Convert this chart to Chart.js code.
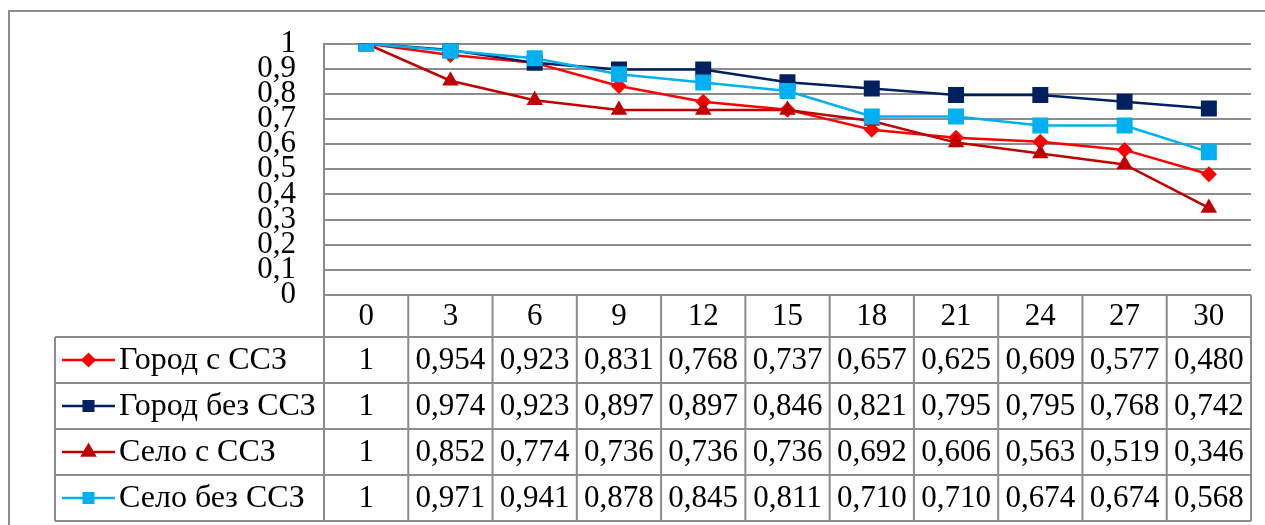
<!DOCTYPE html>
<html>
<head>
<meta charset="utf-8">
<script src="https://cdn.jsdelivr.net/npm/chart.js@4.4.1/dist/chart.umd.min.js"></script>
<style>
html, body { margin: 0; padding: 0; background: #fff; }
</style>
</head>
<body>
<canvas id="myChart" width="1265" height="525"></canvas>
<script>
// срок наблюдения (месяцы)
const meses = ['0', '3', '6', '9', '12', '15', '18', '21', '24', '27', '30'];

const gorodSSZ    = [1, 0.954, 0.923, 0.831, 0.768, 0.737, 0.657, 0.625, 0.609, 0.577, 0.480];
const gorodBezSSZ = [1, 0.974, 0.923, 0.897, 0.897, 0.846, 0.821, 0.795, 0.795, 0.768, 0.742];
const seloSSZ     = [1, 0.852, 0.774, 0.736, 0.736, 0.736, 0.692, 0.606, 0.563, 0.519, 0.346];
const seloBezSSZ  = [1, 0.971, 0.941, 0.878, 0.845, 0.811, 0.710, 0.710, 0.674, 0.674, 0.568];

const nombres = ['Город с ССЗ', 'Город без ССЗ', 'Село с ССЗ', 'Село без ССЗ'];
const yTicks = ['0', '0,1', '0,2', '0,3', '0,4', '0,5', '0,6', '0,7', '0,8', '0,9', '1'];

const FONT = "'Liberation Serif', 'Times New Roman', serif";
const GRIS = '#8c8c8c';

const series = [
    { label: nombres[0], data: gorodSSZ,    color: '#ff0000', style: 'rectRot',  radius: 8,    leg: 7.5, order: 4 },
    { label: nombres[1], data: gorodBezSSZ, color: '#002060', style: 'rect',     radius: 11.3, leg: 8.5, order: 3 },
    { label: nombres[2], data: seloSSZ,     color: '#c00000', style: 'triangle', radius: 9.5,  leg: 9.5, order: 2 },
    { label: nombres[3], data: seloBezSSZ,  color: '#00b0f0', style: 'rect',     radius: 11.3, leg: 8.5, order: 1 }
];

function formato(v) {
    return v === 1 ? '1' : v.toFixed(3).replace('.', ',');
}

const tabla = {
    id: 'tabla',
    beforeDraw(chart) {
        const ctx = chart.ctx;
        ctx.save();
        ctx.strokeStyle = GRIS;
        ctx.lineWidth = 2;
        ctx.beginPath();
        ctx.moveTo(9, 525);
        ctx.lineTo(9, 11);
        ctx.lineTo(1265, 11);
        ctx.stroke();
        ctx.restore();
    },
    afterDraw(chart) {
        const { ctx, chartArea, scales } = chart;
        const x = scales.x;
        const colW = (chartArea.right - chartArea.left) / meses.length;
        const top = chartArea.bottom;
        const headH = 42, rowH = 46, legLeft = 55;
        const rowTop = top + headH;
        const bottom = rowTop + rowH * series.length;

        ctx.save();
        ctx.strokeStyle = GRIS;
        ctx.lineWidth = 2;
        ctx.beginPath();
        for (let i = 0; i <= meses.length; i++) {
            const px = x.getPixelForValue(i) - colW / 2;
            ctx.moveTo(px, top);
            ctx.lineTo(px, bottom);
        }
        ctx.moveTo(legLeft, rowTop);
        ctx.lineTo(legLeft, bottom);
        for (let r = 0; r <= series.length; r++) {
            ctx.moveTo(legLeft, rowTop + r * rowH);
            ctx.lineTo(chartArea.right, rowTop + r * rowH);
        }
        ctx.moveTo(chartArea.left, top);
        ctx.lineTo(chartArea.right, top);
        ctx.stroke();

        ctx.fillStyle = '#000';
        ctx.font = '31px ' + FONT;
        ctx.textBaseline = 'middle';
        ctx.textAlign = 'center';
        meses.forEach((m, i) => {
            ctx.fillText(m, x.getPixelForValue(i), top + headH / 2 + 1);
        });

        series.forEach((s, r) => {
            const cy = rowTop + r * rowH + rowH / 2 + 1;
            ctx.font = '31px ' + FONT;
            ctx.textAlign = 'center';
            s.data.forEach((v, i) => {
                ctx.fillText(formato(v), x.getPixelForValue(i), cy);
            });
            // leyenda
            ctx.strokeStyle = s.color;
            ctx.lineWidth = 2.5;
            ctx.beginPath();
            ctx.moveTo(62, cy - 1);
            ctx.lineTo(115, cy - 1);
            ctx.stroke();
            ctx.fillStyle = s.color;
            Chart.helpers.drawPoint(ctx, {
                pointStyle: s.style, radius: s.leg, rotation: 0, borderWidth: 0
            }, 88.5, cy - 1);
            ctx.fillStyle = '#000';
            ctx.font = '32px ' + FONT;
            ctx.textAlign = 'left';
            ctx.fillText(s.label, 119, cy);
        });
        ctx.restore();
    }
};

new Chart(document.getElementById('myChart'), {
    type: 'line',
    data: {
        labels: meses,
        datasets: series.map(s => ({
            label: s.label,
            data: s.data,
            borderColor: s.color,
            backgroundColor: s.color,
            borderWidth: 2.5,
            pointStyle: s.style,
            pointRadius: s.radius,
            pointBorderWidth: 0,
            tension: 0,
            order: s.order
        }))
    },
    options: {
        responsive: false,
        animation: false,
        layout: { padding: { left: 0, top: 42, right: 14, bottom: 230 } },
        plugins: {
            legend: { display: false },
            tooltip: { enabled: false }
        },
        scales: {
            x: {
                display: false,
                offset: true
            },
            y: {
                min: 0,
                max: 1,
                afterFit(scale) { scale.width = 324; },
                ticks: {
                    stepSize: 0.1,
                    autoSkip: false,
                    padding: 28,
                    color: '#000',
                    font: { family: FONT, size: 31, lineHeight: 1 },
                    callback: (v, i) => yTicks[i]
                },
                grid: { color: GRIS, lineWidth: 2, drawTicks: false },
                border: { color: GRIS, width: 2 }
            }
        }
    },
    plugins: [tabla]
});
</script>
</body>
</html>
